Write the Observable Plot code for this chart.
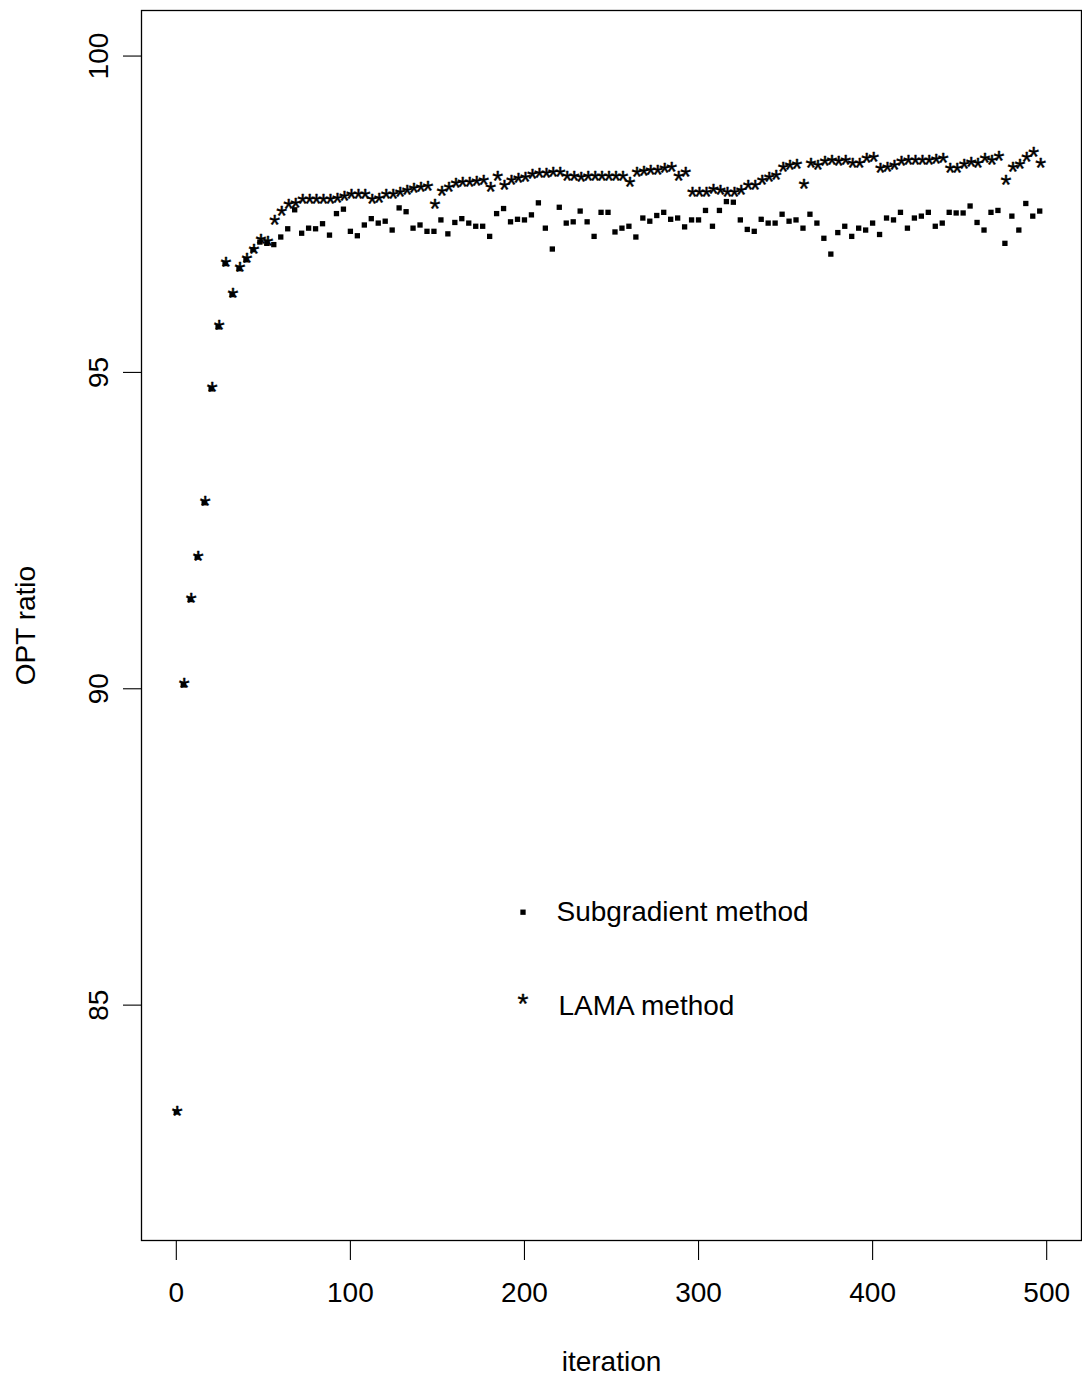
<!DOCTYPE html>
<html>
<head>
<meta charset="utf-8">
<script src="https://cdn.jsdelivr.net/npm/d3@7"></script>
<script src="https://cdn.jsdelivr.net/npm/@observablehq/plot@0.6"></script>
<style>
  html, body { margin: 0; padding: 0; background: white; }
  #chart svg { display: block; }
</style>
</head>
<body>
<div id="chart"></div>
<script>
// iteration numbers (every 4th iteration)
const iterations = [0,4,8,12,16,20,24,28,32,36,40,44,48,52,56,60,64,68,72,76,80,84,88,92,96,
  100,104,108,112,116,120,124,128,132,136,140,144,148,152,156,160,164,168,172,176,180,184,188,192,196,
  200,204,208,212,216,220,224,228,232,236,240,244,248,252,256,260,264,268,272,276,280,284,288,292,296,
  300,304,308,312,316,320,324,328,332,336,340,344,348,352,356,360,364,368,372,376,380,384,388,392,396,
  400,404,408,412,416,420,424,428,432,436,440,444,448,452,456,460,464,468,472,476,480,484,488,492,496];

// OPT ratio, Subgradient method (filled squares)
const subgradient = [83.31,90.06,91.41,92.08,92.94,94.74,95.72,96.72,96.23,96.64,
  96.78,96.94,97.06,97.04,97.02,97.14,97.27,97.57,97.20,97.28,
  97.27,97.35,97.17,97.51,97.58,97.23,97.16,97.33,97.43,97.36,
  97.39,97.25,97.60,97.54,97.28,97.33,97.23,97.23,97.41,97.19,
  97.37,97.43,97.36,97.31,97.31,97.15,97.51,97.59,97.38,97.42,
  97.41,97.49,97.68,97.28,96.95,97.61,97.36,97.38,97.55,97.38,
  97.15,97.53,97.53,97.22,97.28,97.31,97.14,97.44,97.39,97.48,
  97.53,97.42,97.44,97.30,97.41,97.41,97.56,97.31,97.56,97.70,
  97.69,97.41,97.26,97.23,97.42,97.36,97.36,97.50,97.39,97.41,
  97.28,97.50,97.36,97.12,96.87,97.21,97.31,97.15,97.28,97.25,
  97.36,97.18,97.44,97.41,97.53,97.28,97.44,97.47,97.53,97.31,
  97.36,97.53,97.52,97.52,97.63,97.37,97.25,97.53,97.56,97.04,
  97.47,97.25,97.67,97.47,97.55];

// OPT ratio, LAMA method (asterisks)
const lama = [83.31,90.06,91.41,92.08,92.94,94.74,95.72,96.72,96.23,96.64,
  96.78,96.93,97.08,97.06,97.38,97.53,97.63,97.65,97.71,97.71,
  97.71,97.71,97.71,97.74,97.77,97.79,97.80,97.80,97.71,97.74,
  97.80,97.80,97.83,97.86,97.89,97.90,97.92,97.64,97.84,97.91,
  97.97,97.99,97.99,98.00,98.01,97.90,98.08,97.94,98.02,98.05,
  98.07,98.11,98.12,98.12,98.14,98.14,98.08,98.08,98.06,98.08,
  98.08,98.08,98.08,98.08,98.08,97.99,98.14,98.16,98.17,98.18,
  98.21,98.23,98.08,98.14,97.82,97.82,97.82,97.88,97.86,97.83,
  97.83,97.86,97.93,97.93,98.01,98.06,98.10,98.23,98.26,98.27,
  97.96,98.29,98.25,98.31,98.34,98.31,98.34,98.28,98.29,98.37,
  98.38,98.20,98.22,98.26,98.32,98.34,98.34,98.33,98.33,98.35,
  98.36,98.20,98.21,98.27,98.30,98.29,98.36,98.33,98.40,98.02,
  98.23,98.27,98.38,98.46,98.28];

const xTicks = [0, 100, 200, 300, 400, 500];
const yTicks = [85, 90, 95, 100];
const xLabel = "iteration";
const yLabel = "OPT ratio";
const legendLabels = ["Subgradient method", "LAMA method"];

const subData = iterations.map((it, i) => ({iteration: it, value: subgradient[i]}));
const lamaData = iterations.map((it, i) => ({iteration: it, value: lama[i]}));

const FONT = "'Liberation Sans', Arial, Helvetica, sans-serif";

const chart = Plot.plot({
  width: 1082,
  height: 1376,
  marginLeft: 141,
  marginRight: 1,
  marginTop: 10,
  marginBottom: 136,
  style: {fontFamily: FONT, fontSize: "28px", background: "white", color: "black"},
  x: {domain: [-20, 520]},
  y: {domain: [81.28, 100.72]},
  marks: [
    Plot.frame({stroke: "black", strokeWidth: 1.3}),
    Plot.axisX({ticks: xTicks, tickSize: 20, tickPadding: 22, fontSize: 28, label: null,
      tickFormat: d => String(d), stroke: "black", strokeWidth: 1.1}),
    Plot.axisY({ticks: yTicks, tickSize: 18, label: null, tickFormat: () => "",
      stroke: "black", strokeWidth: 1.1}),
    Plot.text(yTicks, {y: d => d, text: d => String(d), frameAnchor: "left", dx: -34,
      rotate: -90, textAnchor: "middle", lineAnchor: "bottom", fontSize: 28, fill: "black"}),
    Plot.text([yLabel], {frameAnchor: "left", dx: -107, rotate: -90, textAnchor: "middle",
      lineAnchor: "bottom", fontSize: 28, fill: "black"}),
    Plot.text([xLabel], {frameAnchor: "bottom", dy: 130, textAnchor: "middle",
      lineAnchor: "bottom", fontSize: 28, fill: "black"}),
    // data
    Plot.dot(subData, {x: "iteration", y: "value", symbol: "square", r: 3, fill: "black", stroke: "none"}),
    Plot.text(lamaData, {x: "iteration", y: "value", text: () => "*", fontSize: 28, dx: 1, dy: 3.5,
      fill: "black", stroke: "black", strokeWidth: 0.4, lineAnchor: "middle"}),
    // legend
    Plot.dot([legendLabels[0]], {frameAnchor: "top-left", dx: 381.5, dy: 901.7, symbol: "square",
      r: 3, fill: "black", stroke: "none"}),
    Plot.text([legendLabels[0]], {frameAnchor: "top-left", dx: 415, dy: 902, textAnchor: "start",
      lineAnchor: "middle", fontSize: 28, fill: "black"}),
    Plot.text(["*"], {frameAnchor: "top-left", dx: 381.5, dy: 994, textAnchor: "middle",
      lineAnchor: "middle", fontSize: 28, fill: "black", stroke: "black", strokeWidth: 0.4}),
    Plot.text([legendLabels[1]], {frameAnchor: "top-left", dx: 417, dy: 996, textAnchor: "start",
      lineAnchor: "middle", fontSize: 28, fill: "black"})
  ]
});

document.getElementById("chart").appendChild(chart);
</script>
</body>
</html>
